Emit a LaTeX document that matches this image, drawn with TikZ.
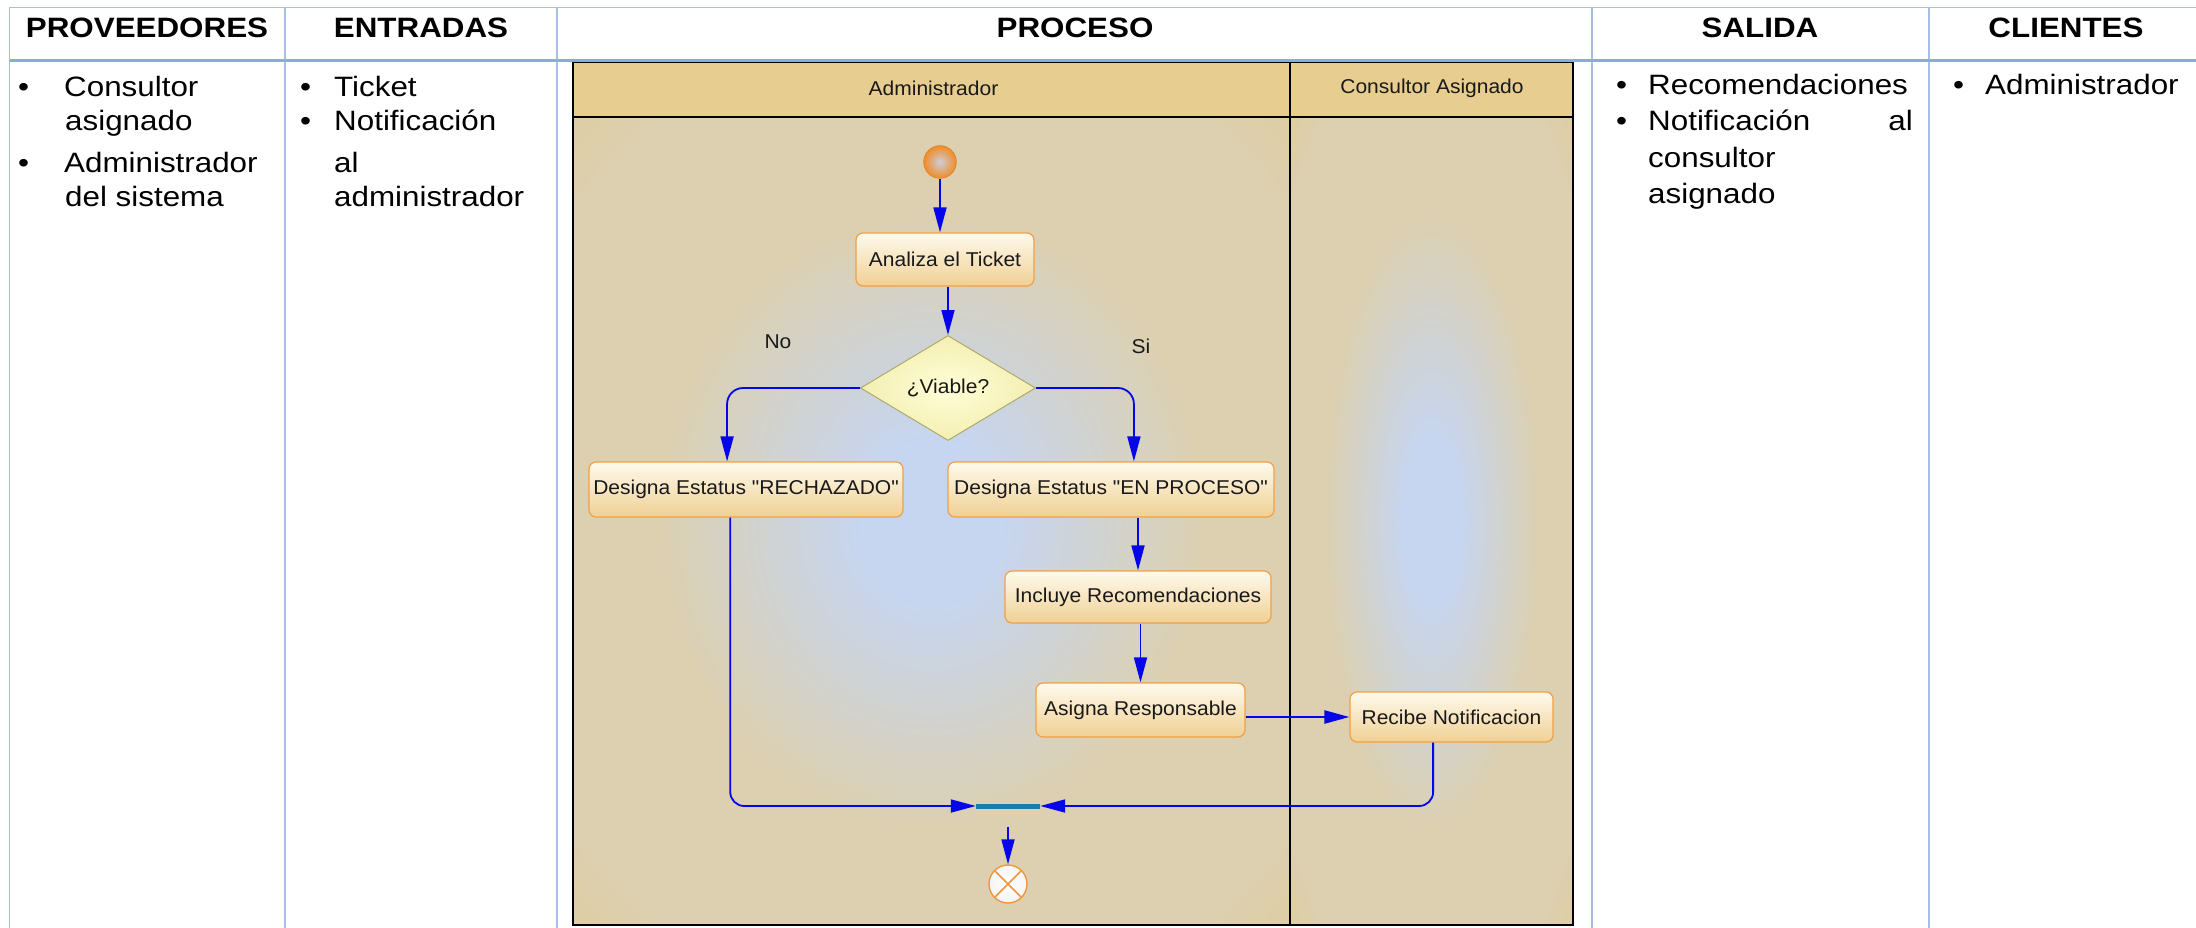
\documentclass[tikz,border=0pt]{standalone}
\usepackage{fontspec}
\setmainfont{Liberation Sans}
\newfontfamily\tablefont[FakeStretch=1.12]{Liberation Sans}
\newfontfamily\umlfont[FakeStretch=1.05]{Liberation Sans}
\usetikzlibrary{shapes.geometric,calc,arrows.meta}

% table colours
\definecolor{gridline}{HTML}{A9BEE4}
\definecolor{gridthick}{HTML}{8EAADB}
% swimlane colours
\definecolor{laneTan}{RGB}{229,201,138}
\definecolor{laneMid}{RGB}{220,208,176}
\definecolor{laneBlue}{RGB}{198,213,240}
\definecolor{hdrTan}{RGB}{231,205,143}
% activity diagram colours
\definecolor{flowBlue}{RGB}{5,5,235}
\definecolor{boxEdge}{RGB}{240,160,70}
\definecolor{boxTop}{RGB}{255,250,236}
\definecolor{boxBot}{RGB}{240,208,148}
\definecolor{diaIn}{RGB}{255,255,215}
\definecolor{diaOut}{RGB}{243,238,178}
\definecolor{diaEdge}{RGB}{175,170,105}
\definecolor{barTeal}{RGB}{25,125,170}
\definecolor{startOr}{RGB}{240,140,40}
\definecolor{startIn}{RGB}{205,205,218}
\definecolor{endOr}{RGB}{240,150,60}
\definecolor{umlText}{RGB}{25,25,25}

\pgfdeclareradialshading{lanefill}{\pgfpoint{0bp}{0bp}}{%
  color(0bp)=(laneBlue); color(5bp)=(laneBlue); color(19bp)=(laneMid);
  color(31bp)=(laneMid); color(44bp)=(laneTan); color(100bp)=(laneTan)}

\begin{document}
\begin{tikzpicture}[x=1pt,y=-1pt,
  tabletxt/.style={font=\tablefont\fontsize{28}{34}\selectfont,inner sep=0pt,anchor=base west,text=black},
  tablehead/.style={font=\tablefont\bfseries\fontsize{28}{34}\selectfont,inner sep=0pt,anchor=base,text=black},
  gridthin/.style={draw=gridline,line width=1.5pt},
  lanelabel/.style={font=\umlfont\fontsize{20}{24}\selectfont,text=umlText,inner sep=0pt},
  activity/.style={rectangle,rounded corners=7pt,draw=boxEdge,line width=1.2pt,
    top color=boxTop,bottom color=boxBot,inner sep=0pt,
    font=\umlfont\fontsize{20}{24}\selectfont,text=umlText},
  decision/.style={diamond,draw=diaEdge,line width=1pt,inner color=diaIn,outer color=diaOut,
    inner sep=0pt,minimum width=175pt,minimum height=105pt,
    font=\umlfont\fontsize{20}{24}\selectfont,text=umlText},
  initnode/.style={circle,minimum size=32.6pt,inner sep=0pt,draw=startOr!95!black,line width=0.8pt,
    inner color=startIn,outer color=startOr},
  finalnode/.style={circle,minimum size=38pt,inner sep=0pt,draw=endOr,line width=1.4pt,
    inner color=white,outer color=white!92!gray,
    path picture={\draw[endOr,line width=1.6pt]
      (path picture bounding box.north west) -- (path picture bounding box.south east)
      (path picture bounding box.north east) -- (path picture bounding box.south west);}},
  joinbar/.style={rectangle,fill=barTeal,minimum width=64pt,minimum height=5pt,inner sep=0pt},
  flowline/.style={draw=flowBlue,line width=1.8pt,-{Triangle[length=25pt,width=13pt]}}
]
\useasboundingbox (0,0) rectangle (2196,928);
\fill[white] (0,0) rectangle (2196,928);

% ---- swimlane pool ----
\fill[hdrTan] (573,62) rectangle (1573,117);
\shade[shading=lanefill] (573,117) rectangle (1290,925);
\shade[shading=lanefill] (1290,117) rectangle (1573,925);
\draw[line width=2pt] (573,62) rectangle (1573,925);
\draw[line width=2pt] (573,117) -- (1573,117);
\draw[line width=1.6pt] (1290,62) -- (1290,925);
\node[lanelabel] (laneA) at (933.5,88) {Administrador};
\node[lanelabel] (laneC) at (1432,88) {Consultor Asignado};

% ---- table grid ----
\draw[gridthin] (9.5,7.5) -- (2196,7.5);
\foreach \x in {9.5,285,557,1592,1929} \draw[gridthin] (\x,7.5) -- (\x,928);
\draw[draw=gridthick,line width=3pt] (9.5,61) -- (2196,61);

% ---- table headers ----
\node[tablehead] (hProv) at (147,37.3) {PROVEEDORES};
\node[tablehead] (hEnt) at (421,37.3) {ENTRADAS};
\node[tablehead] (hProc) at (1075,37.3) {PROCESO};
\node[tablehead] (hSal) at (1760,37.3) {SALIDA};
\node[tablehead] (hCli) at (2066,37.3) {CLIENTES};

% ---- table body ----
\node[tabletxt] (pb1) at (18,96.7) {•};
\node[tabletxt] (p1) at (64,96.7) {Consultor};
\node[tabletxt] (p2) at (65,130.5) {asignado};
\node[tabletxt] (pb2) at (18,173) {•};
\node[tabletxt] (p3) at (64,173) {Administrador};
\node[tabletxt] (p4) at (65,207) {del sistema};

\node[tabletxt] (eb1) at (300,96.7) {•};
\node[tabletxt] (e1) at (334,96.7) {Ticket};
\node[tabletxt] (eb2) at (300,130.5) {•};
\node[tabletxt] (e2) at (334,130.5) {Notificación};
\node[tabletxt] (e3) at (334,173) {al};
\node[tabletxt] (e4) at (334,207) {administrador};

\node[tabletxt] (sb1) at (1616,95) {•};
\node[tabletxt] (s1) at (1648,95) {Recomendaciones};
\node[tabletxt] (sb2) at (1616,131) {•};
\node[tabletxt] (s2) at (1648,131) {Notificación};
\node[tabletxt,anchor=base east] (s2b) at (1913,131) {al};
\node[tabletxt] (s3) at (1648,168) {consultor};
\node[tabletxt] (s4) at (1648,204) {asignado};

\node[tabletxt] (cb1) at (1953,94.5) {•};
\node[tabletxt] (c1) at (1985,94.5) {Administrador};

% ---- activity diagram ----
\node[initnode] (init) at (940,162) {};
\node[activity,minimum width=178pt,minimum height=53pt] (analiza) at (945,259.5) {Analiza el Ticket};
\node[decision] (viable) at (948,388) {¿Viable?};
\node[lanelabel] (lblNo) at (778,342) {No};
\node[lanelabel] (lblSi) at (1141,346) {Si};
\node[activity,minimum width=314pt,minimum height=55pt] (rech) at (746,489.5) {Designa Estatus "RECHAZADO"};
\node[activity,minimum width=326pt,minimum height=55pt] (enproc) at (1111,489.5) {Designa Estatus "EN PROCESO"};
\node[activity,minimum width=266pt,minimum height=52pt] (incl) at (1138,597) {Incluye Recomendaciones};
\node[activity,minimum width=209pt,minimum height=54pt] (asig) at (1140.5,710) {Asigna Responsable};
\node[activity,minimum width=203pt,minimum height=50pt] (recv) at (1451.5,717) {Recibe Notificacion};
\node[joinbar] (join) at (1008,806) {};
\node[finalnode] (final) at (1008,884) {};

\draw[flowline] (init) -- (init |- analiza.north);
\draw[flowline] (analiza.south -| viable.north) -- (viable.north);
\draw[flowline,rounded corners=16pt] (viable.west) -| ($(rech.north west)!0.44!(rech.north east)$);
\draw[flowline,rounded corners=16pt] (viable.east) -| ($(enproc.north west)!0.57!(enproc.north east)$);
\draw[flowline] (enproc.south -| incl.north) -- (incl.north);
\draw[flowline] (incl.south -| asig.north) -- (asig.north);
\draw[flowline,line width=2.3pt] (recv.west -| asig.east) -- (recv.west);
\draw[flowline,rounded corners=14pt] ($(rech.south west)!0.45!(rech.south east)$) |- (join.west);
\draw[flowline,rounded corners=14pt] ($(recv.south west)!0.41!(recv.south east)$) |- (join.east);
\draw[flowline,shorten <=18pt] (join.south) -- (final.north);
\end{tikzpicture}
\end{document}
